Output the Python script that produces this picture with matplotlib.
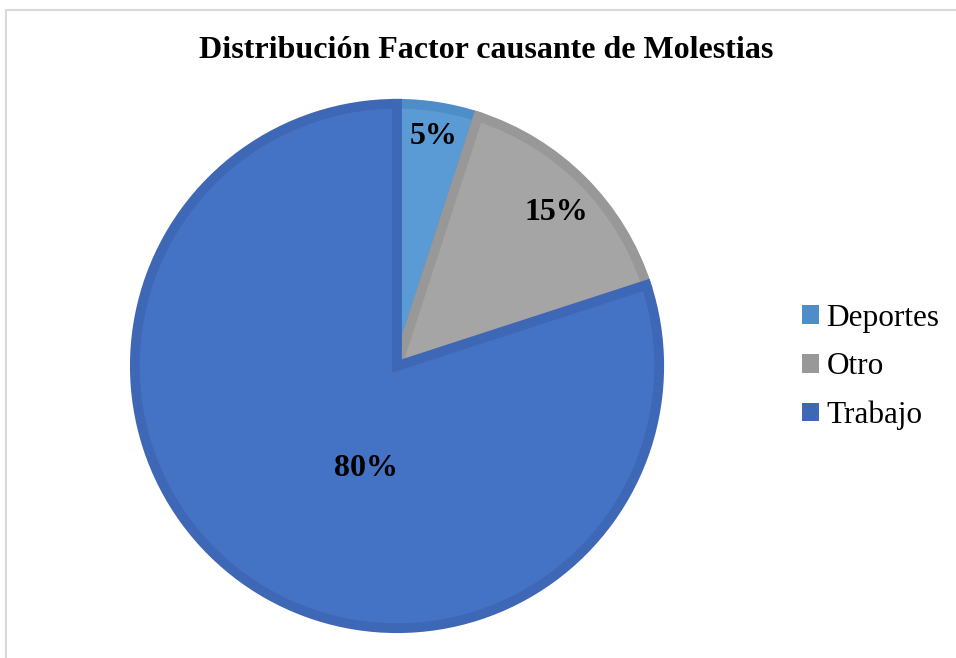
import numpy as np
import matplotlib.pyplot as plt
from matplotlib.patches import Rectangle, Patch

categorias = ["Deportes", "Otro", "Trabajo"]
porcentajes = [5, 15, 80]
relleno = ["#5B9BD5", "#A5A5A5", "#4472C4"]
borde = ["#4F8DC8", "#989898", "#3E67B6"]
# label placement (radial fraction, angle in degrees) like Excel's best fit
pos_etiquetas = [(0.87, 81), (0.83, 44), (0.40, -107)]

plt.rcParams['font.family'] = ['Liberation Serif', 'DejaVu Serif']

fig = plt.figure(figsize=(9.56, 6.58), dpi=100)
fig.patches.append(Rectangle((6 / 956, -0.01), 1.0, 1 - 10 / 658 + 0.01, transform=fig.transFigure,
                             fill=False, edgecolor="#D9D9D9", linewidth=1.5))

ax = fig.add_axes([0.136, 0.038, 0.5586, 0.8116])
wedges, _ = ax.pie(porcentajes, colors=relleno, startangle=90, counterclock=False,
                   radius=0.982, wedgeprops=dict(linewidth=7))
for w, c in zip(wedges, borde):
    w.set_edgecolor(c)
    w.set_joinstyle('miter')
ax.set_xlim(-1, 1)
ax.set_ylim(-1, 1)
ax.set_aspect('auto')
ax.axis('off')

for p, (r, ang) in zip(porcentajes, pos_etiquetas):
    a = np.deg2rad(ang)
    ax.text(r * np.cos(a), r * np.sin(a), f"{p}%", ha='center', va='center',
            fontsize=23, fontweight='bold', color='black')

fig.text(0.509, 1 - 50 / 658, "Distribución Factor causante de Molestias", ha='center', va='center',
         fontsize=23, fontweight='bold')

handles = [Patch(facecolor=c, edgecolor='none') for c in borde]
fig.legend(handles, categorias, loc='center left', bbox_to_anchor=(789 / 956, 1 - 367 / 658),
           frameon=False, fontsize=22.5, handlelength=0.55, handleheight=0.55, handletextpad=0.25,
           labelspacing=0.62, borderaxespad=0)

fig.savefig("out.png", dpi=100)
